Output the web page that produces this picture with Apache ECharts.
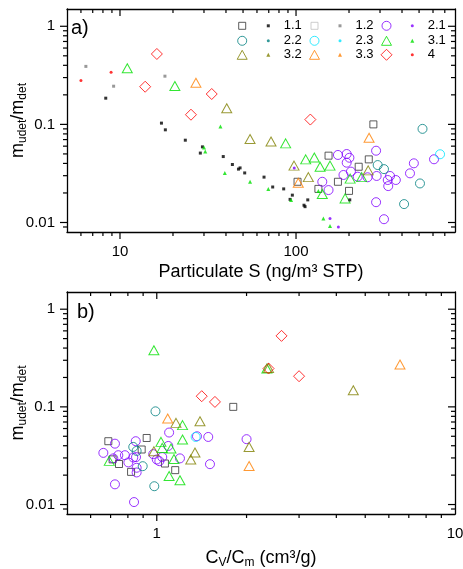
<!DOCTYPE html>
<html><head><meta charset="utf-8">
<script src="https://cdn.jsdelivr.net/npm/echarts@6/dist/echarts.min.js"></script>
<style>html,body{margin:0;padding:0;background:#fff;}#c{width:463px;height:569px;}</style>
</head><body><div id="c"></div>
<script>
// ---------------- DATA ----------------
const groupNames = ['1.1','1.2','2.1','2.2','2.3','3.1','3.2','3.3','4'];
const xTickLabelsA = [10, 100];
const xTickLabelsB = [1, 10];
const yTickLabels = [0.01, 0.1, 1];

// Panel a: small filled markers  [Particulate S, m_udet/m_det]
const a_f11 = [[8.3,0.185],[17.2,0.103],[18.1,0.088],[23.5,0.069],[28.6,0.051],[29.4,0.059],[38.6,0.047],[43.5,0.039],[47.1,0.035],[48.1,0.036],[51.1,0.032],[65.8,0.029],[73.7,0.023],[85.1,0.022],[92.5,0.0172],[95.3,0.019],[111,0.015],[112.5,0.0145],[116.6,0.017],[202,0.017]];
const a_f12 = [[6.4,0.39],[9.2,0.245],[18.0,0.31]];
const a_f21 = [[97.7,0.036],[156,0.011],[174,0.009]];
const a_f22 = [];
const a_f23 = [];
const a_f31 = [[37.2,0.095],[30.0,0.058],[30.5,0.053],[39.4,0.032],[54.8,0.026],[69.6,0.022],[93.7,0.017],[134,0.021],[143,0.011],[156,0.0092]];
const a_f32 = [];
const a_f33 = [];
const a_f4  = [[6.0,0.28],[8.9,0.34]];

// Panel a: open markers
const a_o11 = [[275,0.1],[153,0.048],[259,0.044],[227,0.037],[173,0.026],[134,0.022],[200,0.021],[102,0.026]];
const a_o12 = [];
const a_o21 = [[141,0.026],[153,0.0214],[173,0.0488],[194,0.0499],[201,0.0457],[194,0.0407],[186,0.0305],[205,0.033],[224,0.0293],[255,0.0289],[285,0.0539],[287,0.0298],[332,0.0271],[342,0.0298],[369,0.0271],[334,0.0235],[285,0.0161],[316,0.0108],[444,0.0317],[467,0.0401],[608,0.0441]];
const a_o22 = [[523,0.09],[291,0.0385],[316,0.035],[506,0.025],[411,0.0154]];
const a_o23 = [[658,0.0496]];
const a_o31 = [[11.0,0.373],[20.5,0.246],[87.3,0.064],[113.5,0.044],[127,0.046],[137,0.037],[156,0.038],[141,0.0195],[190,0.0176],[203,0.028],[236,0.029]];
const a_o32 = [[40.4,0.146],[54.8,0.071],[72.1,0.067],[97.4,0.038],[117.5,0.029],[257,0.034]];
const a_o33 = [[27.0,0.266],[260,0.073],[103,0.0254]];
const a_o4  = [[13.9,0.242],[16.2,0.522],[25.3,0.1255],[33.2,0.204],[120.6,0.112]];

// Panel b: open markers  [Cv/Cm, m_udet/m_det]
const b_o11 = [[1.805,0.1],[0.688,0.0445],[0.925,0.048],[0.89,0.0366],[0.711,0.029],[0.747,0.026],[0.82,0.0216],[1.065,0.0263],[1.153,0.0225]];
const b_o12 = [];
const b_o21 = [[0.662,0.0338],[0.724,0.042],[0.715,0.0297],[0.743,0.032],[0.782,0.032],[0.803,0.027],[0.834,0.0303],[0.85,0.0445],[0.852,0.0306],[0.856,0.0238],[0.856,0.0213],[0.724,0.0161],[0.839,0.0106],[0.973,0.0328],[1.0,0.0289],[1.02,0.0278],[1.043,0.0306],[1.093,0.0398],[1.10,0.0546],[1.196,0.0297],[1.364,0.05],[1.488,0.0492],[2.0,0.0467],[1.508,0.0259]];
const b_o22 = [[0.99,0.09],[0.834,0.0389],[0.856,0.0354],[0.897,0.0247],[0.981,0.0154]];
const b_o23 = [[1.35,0.0492]];
const b_o31 = [[0.978,0.38],[2.34,0.247],[1.22,0.065],[1.22,0.0463],[0.693,0.028],[1.033,0.0438],[1.043,0.038],[1.116,0.0374],[1.142,0.0293],[1.10,0.0196],[1.196,0.0177]];
const b_o32 = [[4.56,0.148],[1.16,0.0686],[1.396,0.0713],[2.04,0.0389],[0.978,0.0351],[1.30,0.0289],[1.343,0.0341],[2.37,0.25]];
const b_o33 = [[6.54,0.271],[1.088,0.076],[2.04,0.0248]];
const b_o4  = [[2.62,0.533],[2.37,0.247],[3.0,0.206],[1.415,0.1286],[1.567,0.1124]];

// ---------------- STYLE ----------------
const FONT = "'Liberation Sans', Arial, sans-serif";
const sty = {
  '1.1': {oc:'#333333', os:'rect', oz:7, fc:'#000000', fs:'rect', fz:3},
  '1.2': {oc:'#c0c0c0', os:'rect', oz:7, fc:'#808080', fs:'rect', fz:3},
  '2.1': {oc:'#8000ff', os:'circle', oz:9, fc:'#8000ff', fs:'circle', fz:3},
  '2.2': {oc:'#008080', os:'circle', oz:9, fc:'#008080', fs:'circle', fz:3},
  '2.3': {oc:'#00e5ff', os:'circle', oz:9, fc:'#00e5ff', fs:'circle', fz:3},
  '3.1': {oc:'#00e000', os:'triangle', oz:[10,9], fc:'#00e000', fs:'triangle', fz:4},
  '3.2': {oc:'#808000', os:'triangle', oz:[10,9], fc:'#808000', fs:'triangle', fz:4},
  '3.3': {oc:'#ff8000', os:'triangle', oz:[10,9], fc:'#ff8000', fs:'triangle', fz:4},
  '4':   {oc:'#ff0000', os:'diamond', oz:[11,11], fc:'#ff0000', fs:'circle', fz:3}
};
const key = g => g.replace('.','');
const dataA_f = {}, dataA_o = {}, dataB_o = {};
groupNames.forEach(g => {
  dataA_f[g] = eval('a_f' + key(g));
  dataA_o[g] = eval('a_o' + key(g));
  dataB_o[g] = eval('b_o' + key(g));
});

const ranges = {
  a: {x:[5,800], y:[0.008,1.5]},
  b: {x:[0.5,10], y:[0.008,1.5]}
};

function labelFmt(list){ return v => { for (const t of list) if (Math.abs(v - t) / t < 1e-6) return String(t); return ''; }; }

function tickData(r){
  const out = [];
  const xm = Math.sqrt(r.x[0]*r.x[1]), ym = Math.sqrt(r.y[0]*r.y[1]);
  function add(ext, cb){
    for (let d = Math.floor(Math.log10(ext[0])); d <= Math.ceil(Math.log10(ext[1])); d++){
      for (let m = 1; m <= 9; m++){
        const v = m * Math.pow(10, d);
        if (v > ext[0]*1.0001 && v < ext[1]*0.9999) cb(v, m === 1 ? 1 : 0);
      }
    }
  }
  add(r.x, (v, mj) => { out.push([v, ym, 0, mj]); out.push([v, ym, 1, mj]); });
  add(r.y, (v, mj) => { out.push([xm, v, 2, mj]); out.push([xm, v, 3, mj]); });
  return out;
}
function tickRender(params, api){
  const cs = params.coordSys;
  const side = api.value(2), major = api.value(3);
  const L = major ? 7 : 4;
  const p = api.coord([api.value(0), api.value(1)]);
  let s;
  if (side === 0) { const y = cs.y + cs.height; s = {x1:p[0], y1:y, x2:p[0], y2:y + L}; }
  else if (side === 1) { const y = cs.y; s = {x1:p[0], y1:y, x2:p[0], y2:y + L}; }
  else if (side === 2) { const x = cs.x; s = {x1:x - L, y1:p[1], x2:x, y2:p[1]}; }
  else { const x = cs.x + cs.width; s = {x1:x - L, y1:p[1], x2:x, y2:p[1]}; }
  return {type:'line', shape:s, style:{stroke:'#000', lineWidth:1.2}};
}

const series = [];
function addScatter(name, data, xi, yi, symbol, size, color, open){
  series.push({
    type:'scatter', name, data, xAxisIndex:xi, yAxisIndex:yi,
    symbol, symbolSize:size, silent:true,
    itemStyle: open ? {color:'transparent', borderColor:color, borderWidth:1} : {color:color, borderWidth:0},
    emphasis:{disabled:true}, z: open ? 3 : 4
  });
}
groupNames.forEach(g => {
  const s = sty[g];
  addScatter('o' + g, dataA_o[g], 0, 0, s.os, s.oz, s.oc, true);
  addScatter(g, dataA_f[g], 0, 0, s.fs, s.fz, s.fc, false);
  addScatter('o' + g, dataB_o[g], 2, 2, s.os, s.oz, s.oc, true);
});
series.push({type:'custom', xAxisIndex:0, yAxisIndex:0, data:tickData(ranges.a), renderItem:tickRender, silent:true, z:10, clip:false});
series.push({type:'custom', xAxisIndex:2, yAxisIndex:2, data:tickData(ranges.b), renderItem:tickRender, silent:true, z:10, clip:false});

// legends
const legends = [];
const rows = [['1.1','1.2','2.1'],['2.2','2.3','3.1'],['3.2','3.3','4']];
const colOpen = [241.7, 314, 386], colDot = [268.3, 340, 412.3], rowY = [24.3, 39.3, 53.3];
rows.forEach((row, ri) => row.forEach((g, ci) => {
  const s = sty[g];
  const ow = Array.isArray(s.oz) ? s.oz[0] : s.oz, oh = Array.isArray(s.oz) ? s.oz[1] : s.oz;
  legends.push({data:['o' + g], left: colOpen[ci] - ow/2, top: rowY[ri] - 5, padding:0,
    itemWidth: ow, itemHeight: oh, formatter: () => ' ', selectedMode:false,
    itemStyle:{borderWidth:1},
    textStyle:{fontSize:13, fontFamily:FONT, color:'#000'}});
  legends.push({data:[g], left: colDot[ci] - s.fz/2, top: rowY[ri] - 5, padding:0,
    itemWidth: s.fz, itemHeight: s.fz, formatter: n => n, selectedMode:false,
    itemStyle:{borderWidth:0},
    textStyle:{fontSize:13, fontFamily:FONT, color:'#000', padding:[0,0,0, 15.4 - s.fz/2 - 5]}});
}));

const axLine = {show:true, lineStyle:{color:'#000', width:1.3}};
const lbl = list => ({show:true, fontSize:15, fontFamily:FONT, color:'#000', margin:12, formatter:labelFmt(list)});
const yName = {
  name:'{m|m}{s|udet}{m|/m}{s|det}', nameLocation:'middle', nameGap:38, nameMoveOverlap:false,
  nameTextStyle:{rich:{
    m:{fontSize:18, fontFamily:FONT, color:'#000', lineHeight:22},
    s:{fontSize:12, fontFamily:FONT, color:'#000', lineHeight:14, verticalAlign:'bottom'}
  }}
};
function mkX(grid, r, pos, labels, extra){
  return Object.assign({gridIndex:grid, type:'log', logBase:10, min:r[0], max:r[1], position:pos,
    axisLine:axLine, axisTick:{show:false}, minorTick:{show:false}, splitLine:{show:false},
    axisLabel: labels ? lbl(labels) : {show:false}}, extra || {});
}
const option = {
  animation:false,
  backgroundColor:'#fff',
  grid:[{left:67, top:9, width:388, height:223, outerBoundsMode:'none', containLabel:false},
        {left:67, top:292, width:388, height:222, outerBoundsMode:'none', containLabel:false}],
  xAxis:[
    mkX(0, ranges.a.x, 'bottom', xTickLabelsA, {name:'Particulate S (ng/m³ STP)', nameLocation:'middle', nameGap:31, nameMoveOverlap:false,
      nameTextStyle:{fontSize:18, fontFamily:FONT, color:'#000'}}),
    mkX(0, ranges.a.x, 'top', null),
    mkX(1, ranges.b.x, 'bottom', xTickLabelsB, {name:'{m|C}{s|V}{m|/C}{s|m}{m| (cm³/g)}', nameLocation:'middle', nameGap:33, nameMoveOverlap:false,
      nameTextStyle:{rich:{
        m:{fontSize:18, fontFamily:FONT, color:'#000', lineHeight:22},
        s:{fontSize:12, fontFamily:FONT, color:'#000', lineHeight:14, verticalAlign:'bottom'}
      }}}),
    mkX(1, ranges.b.x, 'top', null)
  ],
  yAxis:[
    mkX(0, ranges.a.y, 'left', yTickLabels, yName),
    mkX(0, ranges.a.y, 'right', null),
    mkX(1, ranges.b.y, 'left', yTickLabels, yName),
    mkX(1, ranges.b.y, 'right', null)
  ],
  legend: legends,
  graphic:[
    {type:'text', left:71, top:18, style:{text:'a)', font:'20px ' + FONT, fill:'#000'}},
    {type:'text', left:77, top:302, style:{text:'b)', font:'20px ' + FONT, fill:'#000'}}
  ],
  series
};
const chart = echarts.init(document.getElementById('c'), null, {renderer:'canvas'});
chart.setOption(option);
</script></body></html>
